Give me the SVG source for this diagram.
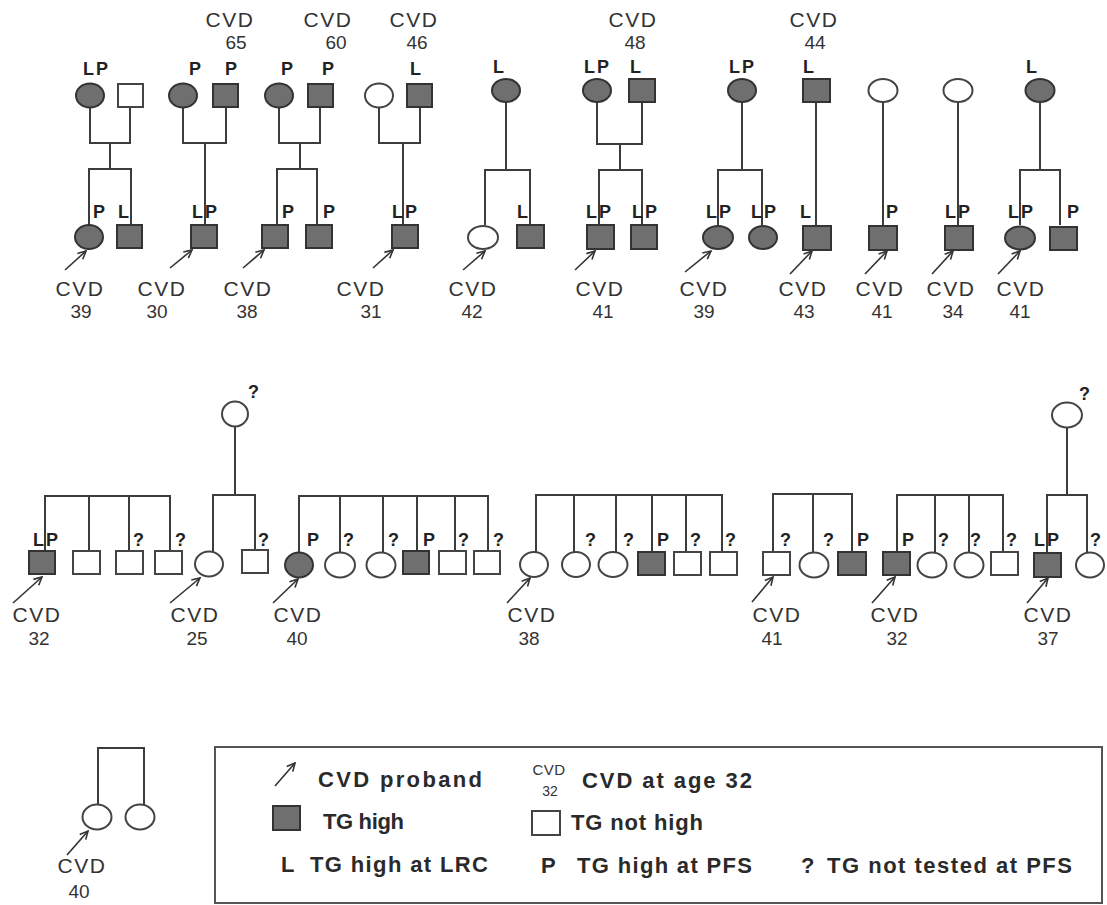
<svg xmlns="http://www.w3.org/2000/svg" width="1107" height="905" viewBox="0 0 1107 905">
<style>
.ln{stroke:#3c3c3c;stroke-width:2;fill:none}
.f{fill:#6f6f6f;stroke:#333;stroke-width:2}
.e{fill:#fff;stroke:#444;stroke-width:2}
.lab{font-family:"Liberation Sans",Arial,sans-serif;font-weight:bold;font-size:18px;fill:#222;letter-spacing:2px}
.cvd{font-family:"Liberation Sans",Arial,sans-serif;font-size:21px;fill:#333;letter-spacing:1.5px;text-anchor:middle}
.age{font-family:"Liberation Sans",Arial,sans-serif;font-size:19px;fill:#333;text-anchor:middle}
.arr{stroke:#333;stroke-width:1.6;fill:none;marker-end:url(#ah)}
.leg{font-family:"Liberation Sans",Arial,sans-serif;font-weight:bold;font-size:22px;fill:#2a2a2a}
</style>
<defs>
<marker id="ah" viewBox="0 0 10 10" refX="9" refY="5" markerWidth="10" markerHeight="10" markerUnits="userSpaceOnUse" orient="auto">
<path d="M1,1 L9,5 L1,9" fill="none" stroke="#333" stroke-width="1.6"/>
</marker>
</defs>
<rect width="1107" height="905" fill="#fff"/>

<g id="connectors">
<path class="ln" d="M90 107V143H130V108 M110 143V169 M89 225V169H131V225"/>
<path class="ln" d="M183 107V143H226V108 M205 143V225"/>
<path class="ln" d="M279 107V143H320V108 M300 143V169 M277 225V169H317V225"/>
<path class="ln" d="M379 107V143H420V108 M403 143V225"/>
<path class="ln" d="M506 102V170 M485 225V170H530V225"/>
<path class="ln" d="M597 102V144H642V102 M620 144V170 M599 225V170H642V225"/>
<path class="ln" d="M742 102V170 M718 225V170H762V225"/>
<path class="ln" d="M816 102V225"/>
<path class="ln" d="M883 102V225"/>
<path class="ln" d="M958 102V225"/>
<path class="ln" d="M1040 102V170 M1020 225V170H1060V225"/>
<path class="ln" d="M45 551V496H170V551 M89 496V551 M129 496V551"/>
<path class="ln" d="M235 427V495 M213 552V495H255V550"/>
<path class="ln" d="M299 553V496H488V551 M340 496V552 M383 496V552 M417 496V551 M455 496V551"/>
<path class="ln" d="M536 552V495H722V552 M574 495V552 M616 495V552 M652 495V552 M686 495V552"/>
<path class="ln" d="M773 552V494H852V552 M813 494V552"/>
<path class="ln" d="M897 552V495H1003V552 M935 495V552 M969 495V552"/>
<path class="ln" d="M1067 427V495 M1047 553V495H1087V552"/>
<path class="ln" d="M98 805V748H144V805"/>
<line class="arr" x1="65" y1="270" x2="86" y2="251"/>
<line class="arr" x1="170" y1="268" x2="192" y2="250"/>
<line class="arr" x1="243" y1="268" x2="264" y2="250"/>
<line class="arr" x1="373" y1="268" x2="393" y2="250"/>
<line class="arr" x1="463" y1="270" x2="485" y2="251"/>
<line class="arr" x1="575" y1="270" x2="595" y2="251"/>
<line class="arr" x1="685" y1="272" x2="711" y2="251"/>
<line class="arr" x1="790" y1="274" x2="812" y2="251"/>
<line class="arr" x1="865" y1="274" x2="887" y2="251"/>
<line class="arr" x1="932" y1="274" x2="953" y2="251"/>
<line class="arr" x1="998" y1="274" x2="1020" y2="251"/>
<line class="arr" x1="13" y1="603" x2="42" y2="577"/>
<line class="arr" x1="170" y1="603" x2="200" y2="578"/>
<line class="arr" x1="273" y1="603" x2="298" y2="579"/>
<line class="arr" x1="507" y1="603" x2="530" y2="578"/>
<line class="arr" x1="752" y1="602" x2="773" y2="577"/>
<line class="arr" x1="872" y1="603" x2="895" y2="577"/>
<line class="arr" x1="1027" y1="603" x2="1048" y2="578"/>
<line class="arr" x1="67" y1="855" x2="88" y2="831"/>
</g>

<!-- top row parents -->
<g id="A-mother"><ellipse class="f" cx="90" cy="95.5" rx="14" ry="12"/><text class="lab" x="83" y="75">LP</text></g>
<g id="A-father"><rect class="e" x="118" y="84" width="25" height="23"/></g>
<g id="B-mother"><ellipse class="f" cx="183" cy="95.5" rx="14" ry="12"/><text class="lab" x="189" y="75">P</text></g>
<g id="B-father"><rect class="f" x="213" y="84" width="25" height="23"/><text class="lab" x="225" y="75">P</text><text class="cvd" x="230" y="27">CVD</text><text class="age" x="236" y="49">65</text></g>
<g id="C-mother"><ellipse class="f" cx="279" cy="95.5" rx="14" ry="12"/><text class="lab" x="281" y="75">P</text></g>
<g id="C-father"><rect class="f" x="308" y="84" width="25" height="23"/><text class="lab" x="322" y="75">P</text><text class="cvd" x="328" y="27">CVD</text><text class="age" x="336" y="49">60</text></g>
<g id="D-mother"><ellipse class="e" cx="379" cy="95.5" rx="14" ry="12"/></g>
<g id="D-father"><rect class="f" x="407" y="84" width="25" height="23"/><text class="lab" x="410" y="75">L</text><text class="cvd" x="414" y="27">CVD</text><text class="age" x="417" y="49">46</text></g>
<g id="E-mother"><ellipse class="f" cx="506" cy="90.5" rx="14" ry="11.5"/><text class="lab" x="493" y="73">L</text></g>
<g id="F-mother"><ellipse class="f" cx="597" cy="90.5" rx="14" ry="11.5"/><text class="lab" x="584" y="73">LP</text></g>
<g id="F-father"><rect class="f" x="629" y="79" width="26" height="23"/><text class="lab" x="630" y="73">L</text><text class="cvd" x="633" y="27">CVD</text><text class="age" x="635" y="49">48</text></g>
<g id="G-mother"><ellipse class="f" cx="742" cy="90.5" rx="14" ry="11.5"/><text class="lab" x="729" y="73">LP</text></g>
<g id="H-father"><rect class="f" x="803" y="79" width="27" height="23"/><text class="lab" x="803" y="73">L</text><text class="cvd" x="814" y="27">CVD</text><text class="age" x="815" y="49">44</text></g>
<g id="I-mother"><ellipse class="e" cx="883" cy="90.5" rx="14.5" ry="11.5"/></g>
<g id="J-mother"><ellipse class="e" cx="958" cy="90.5" rx="14.5" ry="11.5"/></g>
<g id="K-mother"><ellipse class="f" cx="1040" cy="90.5" rx="14.5" ry="11.5"/><text class="lab" x="1026" y="73">L</text></g>

<!-- top row children -->
<g id="A-c1"><ellipse class="f" cx="89" cy="237" rx="14" ry="12"/><text class="lab" x="93" y="218">P</text><text class="cvd" x="80" y="296">CVD</text><text class="age" x="81" y="318">39</text></g>
<g id="A-c2"><rect class="f" x="117" y="225" width="25" height="23"/><text class="lab" x="118" y="218">L</text></g>
<g id="B-c1"><rect class="f" x="191" y="225" width="26" height="23"/><text class="lab" x="192" y="218">LP</text><text class="cvd" x="162" y="296">CVD</text><text class="age" x="157" y="318">30</text></g>
<g id="C-c1"><rect class="f" x="262" y="225" width="26" height="23"/><text class="lab" x="282" y="218">P</text><text class="cvd" x="248" y="296">CVD</text><text class="age" x="247" y="318">38</text></g>
<g id="C-c2"><rect class="f" x="306" y="225" width="26" height="23"/><text class="lab" x="323" y="218">P</text></g>
<g id="D-c1"><rect class="f" x="392" y="225" width="26" height="23"/><text class="lab" x="392" y="218">LP</text><text class="cvd" x="361" y="296">CVD</text><text class="age" x="371" y="318">31</text></g>
<g id="E-c1"><ellipse class="e" cx="483" cy="237.5" rx="15" ry="11.5"/><text class="cvd" x="473" y="296">CVD</text><text class="age" x="472" y="318">42</text></g>
<g id="E-c2"><rect class="f" x="517" y="225" width="27" height="23"/><text class="lab" x="517" y="218">L</text></g>
<g id="F-c1"><rect class="f" x="587" y="225" width="27" height="24"/><text class="lab" x="586" y="218">LP</text><text class="cvd" x="600" y="296">CVD</text><text class="age" x="603" y="318">41</text></g>
<g id="F-c2"><rect class="f" x="631" y="225" width="26" height="24"/><text class="lab" x="632" y="218">LP</text></g>
<g id="G-c1"><ellipse class="f" cx="718" cy="237.5" rx="15" ry="11.5"/><text class="lab" x="706" y="218">LP</text><text class="cvd" x="704" y="296">CVD</text><text class="age" x="704" y="318">39</text></g>
<g id="G-c2"><ellipse class="f" cx="763" cy="237.5" rx="14" ry="11.5"/><text class="lab" x="751" y="218">LP</text></g>
<g id="H-c1"><rect class="f" x="803" y="226" width="28" height="24"/><text class="lab" x="800" y="218">L</text><text class="cvd" x="803" y="296">CVD</text><text class="age" x="804" y="318">43</text></g>
<g id="I-c1"><rect class="f" x="869" y="226" width="28" height="24"/><text class="lab" x="886" y="218">P</text><text class="cvd" x="880" y="296">CVD</text><text class="age" x="882" y="318">41</text></g>
<g id="J-c1"><rect class="f" x="945" y="226" width="28" height="24"/><text class="lab" x="945" y="218">LP</text><text class="cvd" x="951" y="296">CVD</text><text class="age" x="953" y="318">34</text></g>
<g id="K-c1"><ellipse class="f" cx="1020" cy="238" rx="15" ry="11.5"/><text class="lab" x="1008" y="218">LP</text><text class="cvd" x="1021" y="296">CVD</text><text class="age" x="1020" y="318">41</text></g>
<g id="K-c2"><rect class="f" x="1050" y="227" width="27" height="23"/><text class="lab" x="1067" y="218">P</text></g>

<!-- middle row -->
<g id="M1-1"><rect class="f" x="29" y="551" width="26" height="23"/><text class="lab" x="33" y="546">LP</text><text class="cvd" x="37" y="622">CVD</text><text class="age" x="39" y="645">32</text></g>
<g id="M1-2"><rect class="e" x="73" y="551" width="27" height="23"/></g>
<g id="M1-3"><rect class="e" x="116" y="551" width="27" height="23"/><text class="lab" x="133" y="546">?</text></g>
<g id="M1-4"><rect class="e" x="155" y="551" width="27" height="23"/><text class="lab" x="175" y="546">?</text></g>
<g id="M2-gm"><ellipse class="e" cx="235" cy="414" rx="13" ry="12.5"/><text class="lab" x="248" y="398">?</text></g>
<g id="M2-1"><ellipse class="e" cx="209" cy="564" rx="14" ry="12.5"/><text class="cvd" x="195" y="622">CVD</text><text class="age" x="197" y="645">25</text></g>
<g id="M2-2"><rect class="e" x="242" y="550" width="26" height="23"/><text class="lab" x="258" y="546">?</text></g>
<g id="M3-1"><ellipse class="f" cx="299" cy="565" rx="14" ry="12.5"/><text class="lab" x="307" y="546">P</text><text class="cvd" x="298" y="622">CVD</text><text class="age" x="297" y="645">40</text></g>
<g id="M3-2"><ellipse class="e" cx="340" cy="565" rx="15" ry="12.5"/><text class="lab" x="343" y="546">?</text></g>
<g id="M3-3"><ellipse class="e" cx="381" cy="565" rx="14.5" ry="12.5"/><text class="lab" x="388" y="546">?</text></g>
<g id="M3-4"><rect class="f" x="403" y="551" width="26" height="23"/><text class="lab" x="423" y="546">P</text></g>
<g id="M3-5"><rect class="e" x="439" y="551" width="27" height="23"/><text class="lab" x="458" y="546">?</text></g>
<g id="M3-6"><rect class="e" x="474" y="551" width="26" height="23"/><text class="lab" x="493" y="546">?</text></g>
<g id="M4-1"><ellipse class="e" cx="534" cy="564.5" rx="14" ry="12.5"/><text class="cvd" x="532" y="622">CVD</text><text class="age" x="529" y="645">38</text></g>
<g id="M4-2"><ellipse class="e" cx="576" cy="564.5" rx="14" ry="12.5"/><text class="lab" x="585" y="546">?</text></g>
<g id="M4-3"><ellipse class="e" cx="613" cy="564.5" rx="14.5" ry="12.5"/><text class="lab" x="623" y="546">?</text></g>
<g id="M4-4"><rect class="f" x="638" y="552" width="27" height="23"/><text class="lab" x="657" y="546">P</text></g>
<g id="M4-5"><rect class="e" x="674" y="552" width="27" height="23"/><text class="lab" x="690" y="546">?</text></g>
<g id="M4-6"><rect class="e" x="710" y="552" width="27" height="23"/><text class="lab" x="725" y="546">?</text></g>
<g id="M5-1"><rect class="e" x="763" y="552" width="27" height="23"/><text class="lab" x="780" y="546">?</text><text class="cvd" x="777" y="622">CVD</text><text class="age" x="772" y="645">41</text></g>
<g id="M5-2"><ellipse class="e" cx="814" cy="565" rx="14.5" ry="12.5"/><text class="lab" x="823" y="546">?</text></g>
<g id="M5-3"><rect class="f" x="838" y="552" width="28" height="23"/><text class="lab" x="857" y="546">P</text></g>
<g id="M6-1"><rect class="f" x="883" y="552" width="27" height="23"/><text class="lab" x="902" y="546">P</text><text class="cvd" x="895" y="622">CVD</text><text class="age" x="897" y="645">32</text></g>
<g id="M6-2"><ellipse class="e" cx="932" cy="565" rx="14.5" ry="12.5"/><text class="lab" x="938" y="546">?</text></g>
<g id="M6-3"><ellipse class="e" cx="969" cy="565" rx="14.5" ry="12.5"/><text class="lab" x="970" y="546">?</text></g>
<g id="M6-4"><rect class="e" x="991" y="552" width="27" height="23"/><text class="lab" x="1006" y="546">?</text></g>
<g id="M7-gm"><ellipse class="e" cx="1067" cy="415" rx="15" ry="12.5"/><text class="lab" x="1079" y="400">?</text></g>
<g id="M7-1"><rect class="f" x="1034" y="553" width="27" height="24"/><text class="lab" x="1034" y="546">LP</text><text class="cvd" x="1048" y="622">CVD</text><text class="age" x="1048" y="645">37</text></g>
<g id="M7-2"><ellipse class="e" cx="1090" cy="565" rx="14" ry="12.5"/><text class="lab" x="1090" y="546">?</text></g>

<!-- bottom-left family -->
<g id="B8-1"><ellipse class="e" cx="97" cy="817" rx="14.5" ry="12.5"/><text class="cvd" x="82" y="873">CVD</text><text class="age" x="79" y="898">40</text></g>
<g id="B8-2"><ellipse class="e" cx="140" cy="817" rx="14.5" ry="12.5"/></g>

<!-- legend -->
<g id="legend">
<rect x="215" y="747" width="887" height="156" fill="none" stroke="#555" stroke-width="2"/>
<line class="arr" x1="275" y1="786" x2="295" y2="763"/>
<text class="leg" x="318" y="787" textLength="164" lengthAdjust="spacing">CVD proband</text>
<text x="549" y="775" font-family="Liberation Sans, Arial, sans-serif" font-size="15" fill="#333" text-anchor="middle" letter-spacing="0.5">CVD</text>
<text x="550" y="796" font-family="Liberation Sans, Arial, sans-serif" font-size="14" fill="#333" text-anchor="middle">32</text>
<text class="leg" x="582" y="788" textLength="170" lengthAdjust="spacing">CVD at age 32</text>
<rect class="f" x="273" y="806" width="27" height="24"/>
<text class="leg" x="323" y="829" textLength="81" lengthAdjust="spacing">TG high</text>
<rect class="e" x="532" y="811" width="28" height="24"/>
<text class="leg" x="571" y="830" textLength="132" lengthAdjust="spacing">TG not high</text>
<text class="leg" x="281" y="872">L</text>
<text class="leg" x="310" y="872" textLength="178" lengthAdjust="spacing">TG high at LRC</text>
<text class="leg" x="541" y="873">P</text>
<text class="leg" x="577" y="873" textLength="175" lengthAdjust="spacing">TG high at PFS</text>
<text class="leg" x="801" y="873">?</text>
<text class="leg" x="827" y="873" textLength="245" lengthAdjust="spacing">TG not tested at PFS</text>
</g>
</svg>
